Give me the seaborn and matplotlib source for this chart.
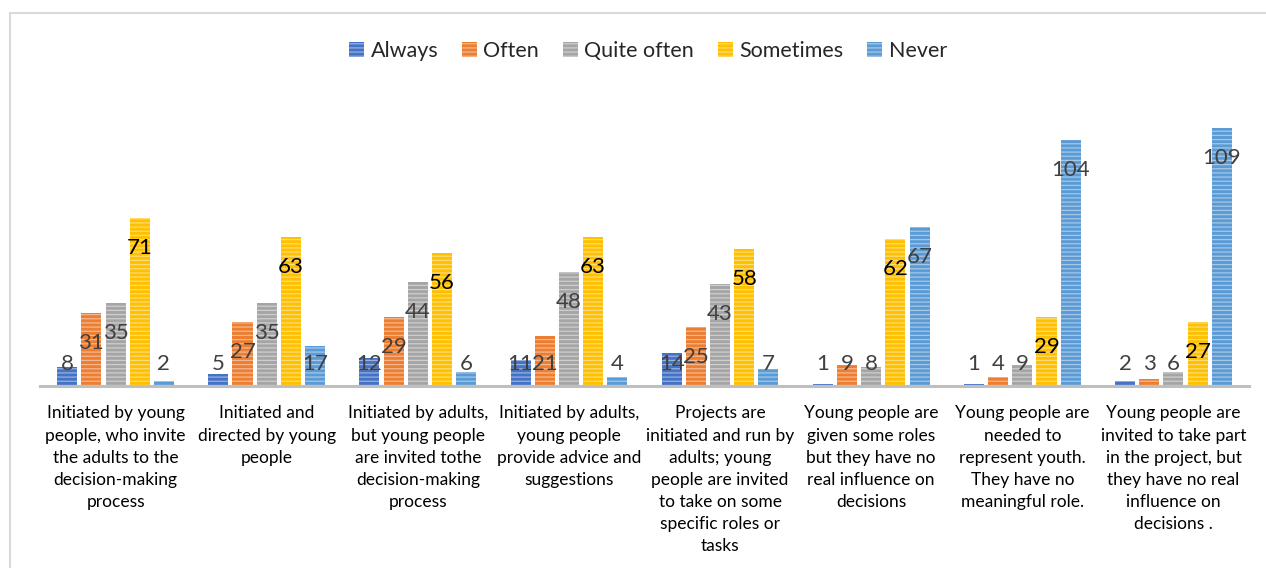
import matplotlib
matplotlib.use("Agg")
import matplotlib.pyplot as plt
from matplotlib.patches import Patch
from matplotlib.lines import Line2D
import matplotlib.colors as mcolors
import seaborn as sns
import pandas as pd

categories = [
    "Initiated by young\npeople, who invite\nthe adults to the\ndecision-making\nprocess",
    "Initiated and\ndirected by young\npeople",
    "Initiated by adults,\nbut young people\nare invited tothe\ndecision-making\nprocess",
    "Initiated by adults,\nyoung people\nprovide advice and\nsuggestions",
    "Projects are\ninitiated and run by\nadults; young\npeople are invited\nto take on some\nspecific roles or\ntasks",
    "Young people are\ngiven some roles\nbut they have no\nreal influence on\ndecisions",
    "Young people are\nneeded to\nrepresent youth.\nThey have no\nmeaningful role.",
    "Young people are\ninvited to take part\nin the project, but\nthey have no real\ninfluence on\ndecisions .",
]
series = ["Always", "Often", "Quite often", "Sometimes", "Never"]
always = [8, 5, 12, 11, 14, 1, 1, 2]
often = [31, 27, 29, 21, 25, 9, 4, 3]
quite_often = [35, 35, 44, 48, 43, 8, 9, 6]
sometimes = [71, 63, 56, 63, 58, 62, 29, 27]
never = [2, 17, 6, 4, 7, 67, 104, 109]
values = [always, often, quite_often, sometimes, never]
colors = ["#4472C4", "#ED7D31", "#A5A5A5", "#FFC000", "#5B9BD5"]
label_colors = ["#404040", "#404040", "#404040", "#000000", "#404040"]

rows = []
for s, vals in zip(series, values):
    for c, v in zip(categories, vals):
        rows.append({"category": c, "series": s, "value": v})
df = pd.DataFrame(rows)

sns.set_theme(style="white")
plt.rcParams["font.family"] = ["Lato", "DejaVu Sans"]
plt.rcParams["hatch.linewidth"] = 0.9

W, H = 1266, 568
fig = plt.figure(figsize=(W / 100, H / 100), dpi=100)
ax_left, ax_right = 40 / W, 1249 / W
ax_bottom = 1 - 386 / H
ymax = 120
scale = (386 - 128) / 109.0
ax_h = ymax * scale / H
ax = fig.add_axes([ax_left, ax_bottom, ax_right - ax_left, ax_h])

sns.barplot(data=df, x="category", y="value", hue="series", order=categories,
            hue_order=series, palette=colors, width=0.8, gap=0.17,
            saturation=1, ax=ax, legend=False)


def light(c, f=0.45):
    r, g, b = mcolors.to_rgb(c)
    return (r + (1 - r) * f, g + (1 - g) * f, b + (1 - b) * f)


for cont, col, lc in zip(ax.containers, colors, label_colors):
    for p in cont.patches:
        p.set_hatch("----")
        p.set_edgecolor(light(col))
        p.set_linewidth(0)
        v = p.get_height()
        ytxt = max(v - 30 / scale, 22 / scale)
        ax.text(p.get_x() + p.get_width() / 2, ytxt, f"{int(round(v))}",
                ha="center", va="center", fontsize=16, color=lc)

ax.set_ylim(0, ymax)
ax.set_xlim(-0.5, len(categories) - 0.5)
ax.set_xlabel("")
ax.set_ylabel("")
ax.set_yticks([])
for s in ["left", "top", "right"]:
    ax.spines[s].set_visible(False)
ax.spines["bottom"].set_color("#BFBFBF")
ax.spines["bottom"].set_linewidth(2.2)
ax.tick_params(axis="x", length=0, pad=14, labelsize=12.5, colors="#000000")
ax.set_xticks(range(len(categories)))
ax.set_xticklabels(categories, linespacing=1.47)

handles = [Patch(facecolor=c, edgecolor=light(c), hatch="----", linewidth=0, label=s)
           for c, s in zip(colors, series)]
fig.legend(handles=handles, loc="center", bbox_to_anchor=(648 / W, 1 - 51 / H),
           ncol=5, frameon=False, fontsize=15.5, handlelength=0.7, handleheight=0.7,
           handletextpad=0.3, columnspacing=1.1)

fig.add_artist(Line2D([10 / W, 10 / W], [0, 1 - 13 / H], color="#D9D9D9", lw=1.5,
                      transform=fig.transFigure))
fig.add_artist(Line2D([10 / W, 1], [1 - 13 / H, 1 - 13 / H], color="#D9D9D9", lw=1.5,
                      transform=fig.transFigure))

fig.savefig("out.png", dpi=100, facecolor="white")
